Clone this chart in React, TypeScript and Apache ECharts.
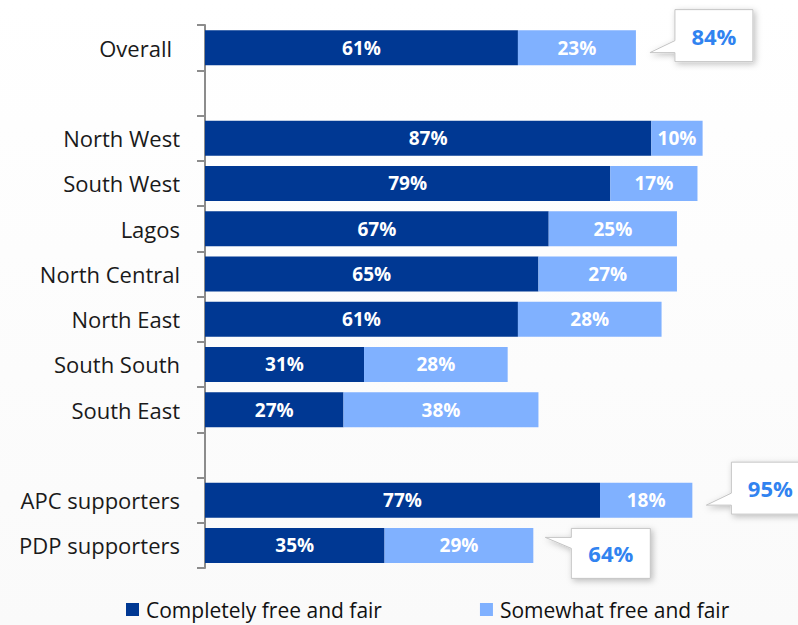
import React, { useEffect, useRef } from "react";
import * as echarts from "echarts";

const categories = [
  "Overall", "", "North West", "South West", "Lagos", "North Central",
  "North East", "South South", "South East", " ", "APC supporters", "PDP supporters",
];
const completely = [61, null, 87, 79, 67, 65, 61, 31, 27, null, 77, 35];
const somewhat = [23, null, 10, 17, 25, 27, 28, 28, 38, null, 18, 29];
const callouts = [
  { index: 0, total: 84, side: "down" },
  { index: 10, total: 95, side: "down" },
  { index: 11, total: 64, side: "up" },
];
const seriesNames = ["Completely free and fair", "Somewhat free and fair"];

const FONT = "'Open Sans', 'Noto Sans', sans-serif";
const DARK = "#003893";
const LIGHT = "#80b1ff";

export default function App() {
  const ref = useRef<HTMLDivElement>(null);
  useEffect(() => {
    document.body.style.margin = "0";
    const chart = echarts.init(ref.current!, null, { renderer: "svg" });
    const barLabel = {
      show: true,
      position: "inside",
      formatter: (p: any) => (p.value == null ? "" : p.value + "%"),
      color: "#fff",
      fontWeight: "bold",
      fontSize: 19,
      fontFamily: FONT,
    };
    chart.setOption({
      animation: false,
      backgroundColor: {
        type: "linear", x: 0, y: 0, x2: 0, y2: 1,
        colorStops: [
          { offset: 0, color: "#ffffff" },
          { offset: 0.2, color: "#fefefe" },
          { offset: 1, color: "#fafafa" },
        ],
      },
      textStyle: { fontFamily: FONT },
      grid: { left: 205, top: 25, height: 543, right: 80 },
      legend: {
        bottom: 0,
        left: 121,
        itemWidth: 13,
        itemHeight: 13,
        itemGap: 98,
        icon: "rect",
        textStyle: { fontSize: 21, color: "#111", fontFamily: FONT, padding: [0, 0, 0, 2] },
        data: seriesNames,
      },
      xAxis: { type: "value", min: 0, max: 100, show: false },
      yAxis: {
        type: "category",
        inverse: true,
        data: categories,
        axisLine: { show: true, lineStyle: { color: "#8c8c8c", width: 2 } },
        axisTick: { show: true, length: 8, interval: 0, lineStyle: { color: "#8c8c8c", width: 2 } },
        axisLabel: {
          fontSize: 22, color: "#1a1a1a", margin: 25, fontFamily: FONT, interval: 0,
          formatter: (v: string) => (v === "Overall" ? "{o|" + v + "}" : v),
          rich: { o: { fontSize: 22, color: "#1a1a1a", fontFamily: FONT, padding: [0, 8, 0, 0] } },
        },
      },
      series: [
        {
          name: seriesNames[0], type: "bar", stack: "t", barWidth: 35,
          data: completely, itemStyle: { color: DARK }, label: barLabel,
        },
        {
          name: seriesNames[1], type: "bar", stack: "t", barWidth: 35,
          data: somewhat, itemStyle: { color: LIGHT }, label: barLabel,
        },
      ],
    });

    const graphics: any[] = [];
    callouts.forEach((c) => {
      const [px, py] = chart.convertToPixel({ gridIndex: 0 }, [c.total, c.index]) as number[];
      let pts: number[][];
      let bx0: number, bx1: number, by0: number, by1: number;
      if (c.side === "down") {
        bx0 = px + 39; bx1 = px + 117; by0 = py - 38; by1 = py + 14;
        pts = [[bx0, by0], [bx1, by0], [bx1, by1], [bx0, by1], [bx0, py + 5], [px + 14, py + 5], [bx0, py - 7]];
      } else {
        bx0 = px + 38; bx1 = px + 117; by0 = py - 17; by1 = py + 33;
        pts = [[bx0, by0], [bx1, by0], [bx1, by1], [bx0, by1], [bx0, py + 3], [px + 12, py - 8], [bx0, py - 8]];
      }
      graphics.push({
        type: "polygon",
        shape: { points: pts },
        style: {
          fill: "#fff", stroke: "#c4c4c4", lineWidth: 1,
          shadowBlur: 6, shadowColor: "rgba(0,0,0,0.25)", shadowOffsetX: 2, shadowOffsetY: 2,
        },
        z: 10,
      });
      graphics.push({
        type: "text",
        x: (bx0 + bx1) / 2,
        y: (by0 + by1) / 2,
        style: {
          text: c.total + "%", fill: "#3183f0", fontSize: 22, fontWeight: "bold",
          fontFamily: FONT, align: "center", verticalAlign: "middle",
        },
        z: 11,
      });
    });
    chart.setOption({ graphic: graphics });
    return () => chart.dispose();
  }, []);
  return <div ref={ref} style={{ width: 798, height: 625 }} />;
}
